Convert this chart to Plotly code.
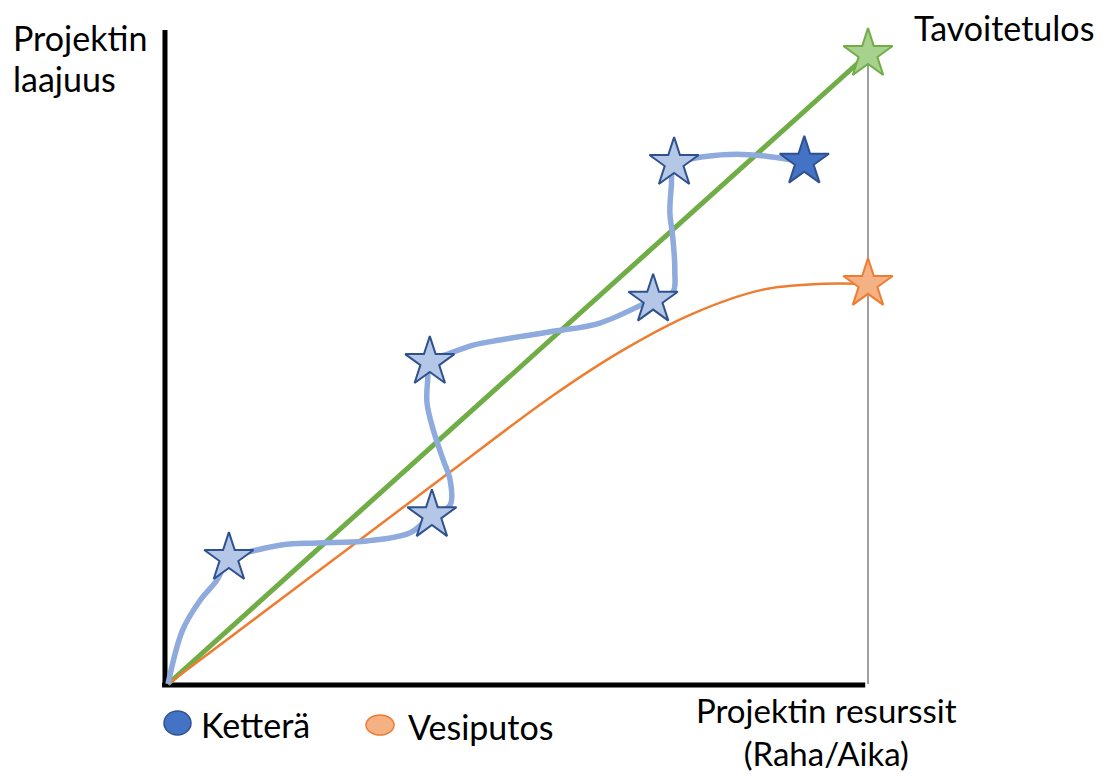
import plotly.graph_objects as go

W, H = 1109, 777

# Resource (x) vs scope (y), both on a 0-100 scale
ideal_x = [0, 100]
ideal_y = [0, 100]

waterfall_x = [0, 20, 40, 55, 65, 75, 85, 93, 100]
waterfall_y = [0, 16.7, 33.4, 45.8, 53.0, 58.8, 62.6, 63.5, 63.5]

agile_x = [0, 2.1, 4.6, 7.0, 8.7, 11.7, 16.4, 21.3, 28.4, 34.6, 37.7, 40.3, 40.3,
           39.3, 37.9, 37.0, 37.1, 37.4, 40.3, 43.6, 47.4, 54.6, 61.7, 69.3, 72.1,
           72.4, 72.1, 71.7, 71.9, 72.3, 74.1, 76.4, 81.3, 86.0, 90.9]
agile_y = [0, 8.6, 13.3, 16.5, 20.0, 21.0, 22.1, 22.4, 22.7, 24.0, 26.8, 28.4, 32.4,
           35.6, 40.3, 44.6, 48.3, 51.1, 52.5, 53.8, 54.6, 55.9, 57.3, 61.0, 62.1,
           65.7, 71.0, 74.8, 78.9, 82.7, 83.2, 83.7, 84.1, 83.7, 82.9]

# Agile milestones (delivered increments) and the latest one
milestone_x = [8.7, 37.7, 37.4, 69.3, 72.3]
milestone_y = [20.0, 26.8, 51.1, 61.0, 82.7]
latest_x = [90.9]
latest_y = [82.9]

target_x = [100]
target_y = [100]
waterfall_end_x = [100]
waterfall_end_y = [63.5]

# Axis geometry: origin at pixel (168, 684); 7.0 px per x unit, 6.3 px per y unit
X0, Y0, SX, SY = 168, 684, 7.0, 6.3
x_range = [-X0 / SX, (W - X0) / SX]
y_range = [(Y0 - H) / SY, Y0 / SY]

FONT = "Lato"
FONT_SIZE = 34
BLUE_LIGHT = "#B4C7E7"
BLUE_DARK = "#2F528F"
BLUE = "#4472C4"
BLUE_LINE = "#8FAADC"
GREEN = "#70AD47"
GREEN_LIGHT = "#A9D18E"
ORANGE = "#ED7D31"
ORANGE_LIGHT = "#F4B183"

fig = go.Figure()

# Target outcome reference line
fig.add_trace(go.Scatter(x=[target_x[0], target_x[0]], y=[0, target_y[0]], mode="lines",
                         line=dict(color="#404040", width=1), hoverinfo="skip"))

fig.add_trace(go.Scatter(x=ideal_x, y=ideal_y, mode="lines",
                         line=dict(color=GREEN, width=5), hoverinfo="skip"))

fig.add_trace(go.Scatter(x=waterfall_x, y=waterfall_y, mode="lines",
                         line=dict(color=ORANGE, width=2.5, shape="spline", smoothing=1.0),
                         hoverinfo="skip"))

fig.add_trace(go.Scatter(x=agile_x, y=agile_y, mode="lines",
                         line=dict(color=BLUE_LINE, width=5.5, shape="spline", smoothing=1.0),
                         hoverinfo="skip"))

star = dict(symbol="star", size=37)
fig.add_trace(go.Scatter(x=milestone_x, y=milestone_y, mode="markers",
                         marker=dict(**star, color=BLUE_LIGHT, line=dict(color=BLUE_DARK, width=2))))
fig.add_trace(go.Scatter(x=latest_x, y=latest_y, mode="markers",
                         marker=dict(**star, color=BLUE, line=dict(color=BLUE_DARK, width=2))))
fig.add_trace(go.Scatter(x=target_x, y=target_y, mode="markers",
                         marker=dict(**star, color=GREEN_LIGHT, line=dict(color=GREEN, width=2))))
fig.add_trace(go.Scatter(x=waterfall_end_x, y=waterfall_end_y, mode="markers",
                         marker=dict(**star, color=ORANGE_LIGHT, line=dict(color=ORANGE, width=2))))


def px(x):
    return x / W


def py(y):
    return 1 - y / H


shapes = [
    # axes
    dict(type="line", xref="x", yref="y", x0=-0.43, y0=-0.3, x1=-0.43, y1=103.8,
         line=dict(color="black", width=5), layer="below"),
    dict(type="line", xref="x", yref="y", x0=-0.85, y0=-0.16, x1=99.6, y1=-0.16,
         line=dict(color="black", width=5), layer="below"),
    # legend swatches
    dict(type="circle", xref="paper", yref="paper", x0=px(164), x1=px(191),
         y0=py(735), y1=py(711), fillcolor=BLUE, line=dict(color=BLUE_DARK, width=1.5)),
    dict(type="circle", xref="paper", yref="paper", x0=px(366), x1=px(394),
         y0=py(735), y1=py(715), fillcolor=ORANGE_LIGHT, line=dict(color=ORANGE, width=1.5)),
]


def label(text, x, y, xanchor="left", size=FONT_SIZE):
    return dict(text=text, x=px(x), y=py(y), xref="paper", yref="paper",
                xanchor=xanchor, yanchor="middle", showarrow=False,
                font=dict(family=FONT, size=size, color="black"))


annotations = [
    label("Projektin", 11, 37),
    label("laajuus", 11, 79),
    label("Tavoitetulos", 1004, 27, "center"),
    label("Projektin resurssit<br>(Raha/Aika)", 826, 731, "center", 33),
    label("Ketterä", 199, 724),
    label("Vesiputos", 406, 726),
]

fig.update_layout(
    width=W, height=H,
    margin=dict(l=0, r=0, t=0, b=0),
    paper_bgcolor="white", plot_bgcolor="white",
    showlegend=False,
    xaxis=dict(range=x_range, visible=False, fixedrange=True),
    yaxis=dict(range=y_range, visible=False, fixedrange=True),
    shapes=shapes,
    annotations=annotations,
)

fig.write_html("out.html")
